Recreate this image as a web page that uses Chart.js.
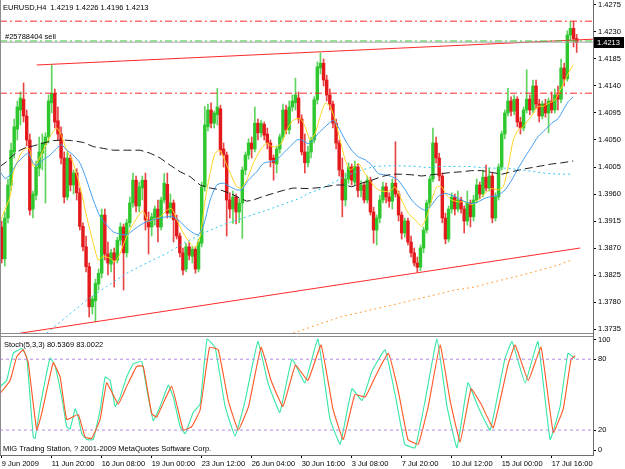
<!DOCTYPE html>
<html>
<head>
<meta charset="utf-8">
<title>EURUSD,H4</title>
<script src="https://cdn.jsdelivr.net/npm/chart.js@4.4.1/dist/chart.umd.min.js"></script>
<style>
  html, body { margin: 0; padding: 0; background: #fff; }
  #wrap { position: relative; width: 625px; height: 469px; }
</style>
</head>
<body>
<div id="wrap"><canvas id="chart" width="625" height="469"></canvas></div>
<script>
// EURUSD H4 candles, bar 0 = 9 Jun 2009 00:00
const opens = [
  1.3905,1.3852,1.3920,1.3975,1.4030,1.4068,1.4100,1.4118,1.4090,1.4050,
  1.3935,1.3958,1.4003,1.4028,1.4042,1.4055,1.4112,1.4128,1.4082,1.4060,
  1.4020,1.3955,1.4020,1.3975,1.3995,1.3962,1.3906,1.3872,1.3839,1.3772,
  1.3782,1.3810,1.3828,1.3925,1.3860,1.3843,1.3862,1.3850,1.3883,1.3905,
  1.3862,1.3912,1.3945,1.3983,1.3940,1.3970,1.3983,1.3917,1.3905,1.3920,
  1.3935,1.3905,1.3950,1.3976,1.3928,1.3945,1.3917,1.3890,1.3862,1.3835,
  1.3872,1.3856,1.3868,1.3835,1.3878,1.3972,1.4072,1.4100,1.4078,1.4092,
  1.4102,1.4035,1.4025,1.3950,1.3935,1.3955,1.3930,1.3945,1.4000,1.4025,
  1.4045,1.4035,1.4078,1.4062,1.4076,1.4060,1.4045,1.4020,1.4010,1.4035,
  1.4055,1.4100,1.4067,1.4105,1.4112,1.4120,1.4085,1.4030,1.4012,1.4030,
  1.4050,1.4117,1.4170,1.4178,1.4150,1.4125,1.4110,1.4078,1.4045,1.4000,
  1.3950,1.3985,1.4005,1.3980,1.4005,1.3966,1.3975,1.3950,1.3983,1.3930,
  1.3900,1.3920,1.3950,1.3972,1.3955,1.3948,1.3978,1.3960,1.3925,1.3895,
  1.3915,1.3880,1.3862,1.3845,1.3838,1.3870,1.3900,1.3945,1.3985,1.4045,
  1.4020,1.3990,1.3920,1.3885,1.3935,1.3955,1.3935,1.3950,1.3935,1.3915,
  1.3945,1.3922,1.3950,1.3975,1.3960,1.3988,1.3970,1.3990,1.3920,1.3955,
  1.4005,1.4060,1.4095,1.4115,1.4098,1.4118,1.4080,1.4070,1.4100,1.4118,
  1.4100,1.4140,1.4110,1.4090,1.4110,1.4095,1.4115,1.4100,1.4125,1.4118,
  1.4170,1.4152,1.4225,1.4236,1.4219
];
const highs = [
  1.3915,1.3930,1.3985,1.4045,1.4085,1.4115,1.4130,1.4145,1.4100,1.4060,
  1.3965,1.4015,1.4055,1.4060,1.4062,1.4125,1.4175,1.4135,1.4105,1.4072,
  1.4030,1.4030,1.4025,1.4000,1.4002,1.3970,1.3912,1.3890,1.3845,1.3790,
  1.3818,1.3835,1.3935,1.3935,1.3880,1.3868,1.3870,1.3888,1.3912,1.3910,
  1.3918,1.3955,1.3995,1.3990,1.3980,1.3990,1.3995,1.3930,1.3928,1.3940,
  1.3950,1.3955,1.3994,1.3995,1.3960,1.3950,1.3925,1.3895,1.3870,1.3878,
  1.3880,1.3872,1.3872,1.3885,1.3980,1.4106,1.4110,1.4112,1.4098,1.4136,
  1.4108,1.4045,1.4030,1.3962,1.3965,1.3960,1.3952,1.4005,1.4030,1.4052,
  1.4055,1.4105,1.4085,1.4083,1.4080,1.4070,1.4050,1.4025,1.4040,1.4060,
  1.4110,1.4108,1.4115,1.4125,1.4153,1.4130,1.4092,1.4060,1.4040,1.4055,
  1.4122,1.4180,1.4195,1.4185,1.4158,1.4135,1.4115,1.4085,1.4050,1.4020,
  1.3995,1.4012,1.4010,1.4015,1.4010,1.3982,1.3980,1.3990,1.3988,1.3938,
  1.3925,1.3958,1.3980,1.3978,1.3962,1.3985,1.4047,1.3965,1.3930,1.3920,
  1.3920,1.3890,1.3870,1.3855,1.3875,1.3905,1.3950,1.3990,1.4070,1.4055,
  1.4028,1.3995,1.3928,1.3940,1.3962,1.3960,1.3965,1.3955,1.3940,1.3965,
  1.3950,1.3958,1.3985,1.3980,1.4000,1.4008,1.4003,1.3995,1.3962,1.4010,
  1.4065,1.4100,1.4136,1.4122,1.4125,1.4122,1.4088,1.4105,1.4167,1.4125,
  1.4150,1.4150,1.4118,1.4115,1.4118,1.4120,1.4130,1.4135,1.4140,1.4185,
  1.4178,1.4232,1.4248,1.4248,1.4226
];
const lows = [
  1.3845,1.3840,1.3912,1.3965,1.4020,1.4050,1.4075,1.4080,1.4040,1.3925,
  1.3920,1.3950,1.3990,1.4000,1.3945,1.4045,1.4095,1.4070,1.4050,1.4010,
  1.3945,1.3950,1.3965,1.3960,1.3950,1.3900,1.3865,1.3830,1.3755,1.3760,
  1.3747,1.3800,1.3820,1.3850,1.3825,1.3830,1.3805,1.3845,1.3875,1.3800,
  1.3855,1.3905,1.3938,1.3930,1.3930,1.3950,1.3900,1.3860,1.3890,1.3908,
  1.3880,1.3900,1.3945,1.3920,1.3920,1.3880,1.3885,1.3855,1.3825,1.3830,
  1.3850,1.3845,1.3828,1.3830,1.3872,1.3965,1.4065,1.4070,1.4070,1.4075,
  1.4025,1.4005,1.3890,1.3920,1.3911,1.3910,1.3912,1.3886,1.3992,1.4018,
  1.4020,1.4030,1.4050,1.4055,1.4050,1.4035,1.4005,1.3983,1.3995,1.4028,
  1.4050,1.4060,1.4060,1.4098,1.4100,1.4078,1.4025,1.3995,1.4005,1.4020,
  1.4045,1.4110,1.4160,1.4140,1.4115,1.4100,1.4070,1.4035,1.3990,1.3922,
  1.3940,1.3978,1.3975,1.3975,1.3955,1.3955,1.3945,1.3945,1.3925,1.3878,
  1.3875,1.3912,1.3945,1.3945,1.3938,1.3935,1.3955,1.3915,1.3885,1.3888,
  1.3875,1.3855,1.3840,1.3830,1.3832,1.3862,1.3895,1.3938,1.3980,1.4012,
  1.3982,1.3912,1.3877,1.3880,1.3928,1.3925,1.3930,1.3928,1.3895,1.3908,
  1.3905,1.3915,1.3945,1.3952,1.3955,1.3965,1.3965,1.3912,1.3915,1.3950,
  1.4000,1.4052,1.4090,1.4090,1.4092,1.4072,1.4060,1.4065,1.4095,1.4092,
  1.4095,1.4102,1.4080,1.4085,1.4088,1.4062,1.4095,1.4095,1.4100,1.4112,
  1.4140,1.4148,1.4215,1.4205,1.4196
];
const closes = [
  1.3852,1.3920,1.3975,1.4033,1.4072,1.4105,1.4120,1.4090,1.4050,1.3933,
  1.3960,1.4005,1.4030,1.4045,1.4055,1.4115,1.4128,1.4080,1.4060,1.4020,
  1.3955,1.4020,1.3975,1.3995,1.3962,1.3906,1.3872,1.3839,1.3772,1.3785,
  1.3811,1.3828,1.3925,1.3860,1.3845,1.3862,1.3850,1.3883,1.3905,1.3862,
  1.3912,1.3945,1.3983,1.3940,1.3972,1.3983,1.3917,1.3905,1.3922,1.3935,
  1.3905,1.3950,1.3978,1.3928,1.3945,1.3917,1.3890,1.3862,1.3833,1.3872,
  1.3858,1.3868,1.3835,1.3880,1.3972,1.4075,1.4100,1.4078,1.4095,1.4105,
  1.4033,1.4025,1.3950,1.3935,1.3955,1.3930,1.3945,1.4000,1.4025,1.4045,
  1.4035,1.4078,1.4062,1.4078,1.4058,1.4045,1.4017,1.4012,1.4035,1.4055,
  1.4100,1.4067,1.4105,1.4115,1.4125,1.4085,1.4030,1.4012,1.4030,1.4050,
  1.4117,1.4172,1.4178,1.4150,1.4125,1.4110,1.4078,1.4045,1.4000,1.3950,
  1.3985,1.4005,1.3983,1.4006,1.3966,1.3975,1.3950,1.3983,1.3930,1.3900,
  1.3920,1.3950,1.3972,1.3955,1.3948,1.3978,1.3960,1.3925,1.3895,1.3915,
  1.3880,1.3862,1.3845,1.3838,1.3870,1.3900,1.3945,1.3985,1.4045,1.4020,
  1.3990,1.3920,1.3885,1.3935,1.3955,1.3935,1.3950,1.3935,1.3915,1.3945,
  1.3922,1.3950,1.3975,1.3960,1.3988,1.3970,1.3990,1.3920,1.3955,1.4005,
  1.4060,1.4095,1.4115,1.4098,1.4118,1.4080,1.4070,1.4100,1.4118,1.4100,
  1.4140,1.4110,1.4090,1.4110,1.4095,1.4115,1.4100,1.4125,1.4118,1.4170,
  1.4152,1.4225,1.4236,1.4219,1.4213
];

// moving averages as [bar, price]
const maYellow = [
  [-0.5,1.3914],[2.7,1.3956],[3.7,1.3995],[5.9,1.4025],[7.5,1.4036],[8.9,1.4035],[10.1,1.4006],
  [11.2,1.4011],[13.3,1.4033],[15.5,1.4056],[17.6,1.4070],[19.2,1.4056],[20.8,1.4033],[22.9,1.4011],
  [25.1,1.3972],[27.2,1.3922],[29.3,1.3878],[30.9,1.3850],[32.5,1.3856],[34.7,1.3853],[36.3,1.3847],
  [37.9,1.3861],[39.5,1.3883],[41.6,1.3906],[44.3,1.3928],[45.3,1.3931],[46.9,1.3914],[48.5,1.3917],
  [50.7,1.3922],[52.8,1.3933],[54.4,1.3936],[56.0,1.3917],[58.1,1.3895],[60.3,1.3878],[61.9,1.3870],
  [63.5,1.3889],[65.1,1.3950],[66.7,1.3995],[68.3,1.4028],[69.9,1.4033],[70.9,1.4022],[73.1,1.3995],
  [75.2,1.3972],[76.8,1.3970],[78.4,1.3983],[80.5,1.4011],[82.7,1.4033],[84.8,1.4045],[86.4,1.4039],
  [88.0,1.4039],[89.6,1.4045],[91.2,1.4067],[93.3,1.4083],[95.5,1.4086],[97.1,1.4072],[98.7,1.4050],
  [100.3,1.4061],[101.9,1.4089],[103.5,1.4111],[105.1,1.4106],[106.7,1.4083],[108.3,1.4050],
  [109.9,1.4017],[111.5,1.4000],[114.1,1.4011],[116.3,1.3994],[118.4,1.3978],[120.5,1.3967],
  [122.7,1.3964],[124.8,1.3967],[125.9,1.3972],[128.0,1.3950],[130.1,1.3928],[132.3,1.3917],
  [134.4,1.3906],[136.0,1.3922],[137.6,1.3950],[139.2,1.3972],[140.8,1.3972],[142.4,1.3958],
  [144.0,1.3950],[146.1,1.3947],[148.3,1.3947],[150.4,1.3942],[152.5,1.3950],[154.7,1.3961],
  [156.8,1.3969],[158.9,1.3967],[160.5,1.3972],[162.1,1.4006],[163.7,1.4050],[165.3,1.4067],
  [166.9,1.4072],[168.5,1.4083],[170.1,1.4094],[171.7,1.4106],[173.3,1.4106],[174.9,1.4111],
  [177.1,1.4117],[178.7,1.4133],[180.3,1.4150],[181.9,1.4167],[182.9,1.4175]
];
const maBlue = [
  [-0.5,1.3997],[1.1,1.3986],[2.7,1.3992],[4.8,1.4011],[6.9,1.4022],[8.5,1.4028],[10.1,1.4011],
  [11.2,1.4008],[13.3,1.4017],[15.5,1.4025],[17.6,1.4036],[19.2,1.4042],[20.8,1.4033],[22.9,1.4025],
  [25.1,1.4011],[27.2,1.3983],[29.3,1.3950],[31.5,1.3922],[33.6,1.3908],[35.7,1.3897],[37.9,1.3893],
  [40.0,1.3892],[42.1,1.3900],[44.3,1.3908],[46.4,1.3914],[48.5,1.3917],[50.7,1.3920],[52.8,1.3922],
  [54.9,1.3922],[57.1,1.3914],[59.2,1.3903],[61.3,1.3895],[62.9,1.3892],[64.5,1.3906],[66.7,1.3950],
  [68.8,1.3975],[70.9,1.3978],[73.1,1.3972],[75.2,1.3967],[76.8,1.3967],[78.9,1.3983],[81.6,1.3997],
  [83.7,1.4011],[85.9,1.4014],[88.0,1.4017],[90.1,1.4028],[92.3,1.4039],[94.4,1.4050],[96.0,1.4050],
  [98.1,1.4044],[99.7,1.4050],[101.3,1.4061],[103.5,1.4072],[106.1,1.4083],[107.7,1.4072],
  [109.9,1.4050],[112.0,1.4033],[114.1,1.4022],[116.3,1.4017],[118.4,1.4008],[120.5,1.3994],
  [122.7,1.3992],[124.8,1.3989],[126.9,1.3983],[129.1,1.3967],[131.2,1.3950],[133.3,1.3939],
  [135.5,1.3933],[137.6,1.3942],[139.7,1.3956],[141.9,1.3961],[144.0,1.3958],[146.1,1.3953],
  [148.3,1.3947],[150.4,1.3944],[152.5,1.3947],[154.7,1.3953],[156.8,1.3956],[158.9,1.3958],
  [161.1,1.3967],[163.2,1.3983],[165.3,1.4003],[167.5,1.4022],[169.6,1.4039],[171.7,1.4056],
  [173.9,1.4067],[176.0,1.4078],[178.1,1.4086],[179.7,1.4100],[181.3,1.4114],[182.9,1.4122]
];
const maBlack = [
  [-0.5,1.4006],[1.6,1.4014],[3.7,1.4025],[5.9,1.4033],[8.0,1.4038],[10.1,1.4040],[13.3,1.4045],
  [16.5,1.4049],[19.7,1.4050],[22.4,1.4049],[26.1,1.4046],[29.3,1.4039],[32.5,1.4036],[35.7,1.4033],
  [40.0,1.4033],[44.3,1.4033],[47.5,1.4028],[50.7,1.4020],[53.9,1.4008],[57.1,1.3997],[60.3,1.3989],
  [63.5,1.3975],[66.7,1.3970],[69.9,1.3967],[73.1,1.3961],[76.3,1.3953],[78.4,1.3948],[80.5,1.3950],
  [83.7,1.3956],[86.9,1.3961],[90.1,1.3966],[93.3,1.3970],[98.1,1.3969],[102.4,1.3971],
  [106.7,1.3975],[109.9,1.3975],[112.0,1.3972],[115.2,1.3978],[118.4,1.3983],[121.6,1.3989],
  [124.8,1.3993],[128.0,1.3993],[131.2,1.3992],[134.4,1.3990],[137.6,1.3992],[140.8,1.3994],
  [144.0,1.3996],[147.2,1.3997],[150.4,1.3999],[153.6,1.3999],[156.8,1.3996],[160.0,1.3993],
  [163.2,1.3997],[166.4,1.4001],[169.6,1.4004],[172.8,1.4007],[176.0,1.4010],[179.2,1.4012],
  [182.9,1.4015]
];
const maCyan = [
  [14.4,1.3728],[20.8,1.3756],[27.2,1.3783],[33.6,1.3806],[40.0,1.3828],[46.4,1.3845],[52.8,1.3861],
  [59.2,1.3881],[65.6,1.3897],[72.0,1.3911],[78.4,1.3922],[84.8,1.3933],[91.2,1.3945],[95.5,1.3953],
  [98.1,1.3961],[102.4,1.3969],[106.7,1.3981],[111.0,1.3992],[115.2,1.4000],[119.5,1.4006],
  [123.7,1.4007],[128.0,1.4007],[132.3,1.4006],[136.5,1.4004],[140.8,1.4006],[145.1,1.4006],
  [149.3,1.4006],[153.6,1.4004],[157.9,1.4003],[162.1,1.4003],[166.4,1.4000],[170.7,1.3997],
  [174.9,1.3994],[179.2,1.3993],[182.4,1.3993]
];
const maOrange = [
  [93.2,1.3728],[108.3,1.3755],[127.4,1.3778],[145.0,1.3800],[151.4,1.3805],[157.9,1.3814],
  [164.3,1.3822],[170.7,1.3831],[177.0,1.3840],[182.5,1.3850]
];

// Stochastic(5,3,3) main and signal as [bar, value]
const stochMain = [
  [-0.5,57],[1.6,62],[3.7,85],[6.4,89],[8,82],[10.1,14],[10.7,13],[12.3,40],[15.5,81],[17.1,74],
  [19.2,48],[20.8,23],[21.9,21],[23.5,38],[24.5,31],[25.6,17],[27.2,12],[29.3,12],[31.5,37],[33.1,65],
  [34.7,62],[36.3,40],[37.9,48],[40,65],[42.1,76],[44.8,78],[46.4,55],[48.5,28],[50.7,40],[53.3,58],
  [54.9,48],[57.1,23],[58.7,17],[61.3,35],[63.5,42],[65.7,97],[68.3,90],[71.5,40],[74.7,15],[77.9,45],
  [82,95],[85.2,60],[89,35],[92.9,80],[97,60],[101.2,97],[105,30],[108.3,8],[112.1,55],[115.3,45],
  [118.5,70],[122.7,88],[125.9,50],[129,8],[132.3,5],[135.5,45],[139.3,97],[142.5,40],[145.7,5],
  [149.2,60],[152.4,40],[156.3,20],[161,80],[163.3,95],[167.5,60],[171.6,95],[175.5,12],[178.7,40],
  [181.2,85],[183.5,80.5]
];
const stochSignal = [
  [-0.5,51],[2.7,62],[4.8,82],[6.9,88],[8.5,77],[11.2,20],[12.8,34],[16.5,77],[18.7,65],[20.8,29],
  [24.5,33],[26.7,14],[28.8,13],[31.5,29],[33.6,60],[37.3,42],[40,57],[43.2,74],[45.3,74],[48,34],
  [49.6,31],[54.4,57],[58.1,20],[60.8,23],[63.5,37],[66.5,90],[69.3,88],[72.5,45],[75.7,20],[79,40],
  [83,90],[86.2,62],[90,40],[94,75],[98,62],[102.2,92],[106,38],[109.3,12],[113,50],[116.3,48],
  [119.5,65],[123.7,85],[127,52],[130,12],[133.3,8],[136.5,40],[140.3,92],[143.5,45],[146.7,10],
  [150.2,55],[153.4,42],[157.3,22],[162,75],[164.3,92],[168.5,62],[172.6,90],[176.5,18],[179.7,38],
  [182.2,80],[183.5,83]
];

// trend lines and price levels
const upperTrend = [[11.2,1.4175],[189.2,1.4218]];
const lowerTrend = [[5.9,1.3728],[185.1,1.3870]];
const levelHigh = 1.4248;   // red dash-dot
const levelLow = 1.4128;    // red dash-dot
const orderPrice = 1.4215;  // green dash-dot, #25788404 sell
const bidPrice = 1.4213;

const xTickIdx = [0,16,32,48,64,80,96,112,128,144,160,176];
const xTickText = ['9 Jun 2009','11 Jun 20:00','16 Jun 08:00','19 Jun 00:00','23 Jun 12:00','26 Jun 04:00',
  '30 Jun 16:00','3 Jul 08:00','7 Jul 20:00','10 Jul 12:00','15 Jul 00:00','17 Jul 16:00'];
const priceTicks = [1.4275,1.4230,1.4185,1.4140,1.4095,1.4050,1.4005,1.3960,1.3915,1.3870,1.3825,1.3780,1.3735];
const stochTickVals = [96.6,80,20,3];
const stochTickText = ['100','80','20','0'];
const stochLevels = [80,20];

const X_MIN = -0.544, X_MAX = 189.22;
const P_MIN = 1.37267, P_MAX = 1.42833;

const FONT = '"Liberation Sans", Arial, sans-serif';
const UP = '#2ec72e', DOWN = '#e3191b';
const UP_WICK = '#5ed45e', DOWN_WICK = '#e84444';

const pts = arr => arr.map(p => ({x: p[0], y: p[1]}));
const span = v => [{x: X_MIN, y: v}, {x: X_MAX, y: v}];
const isUp = i => closes[i] >= opens[i];

function lineSet(data, color, dash, width, axis, tension) {
  return {
    type: 'line', data: data, yAxisID: axis || 'y',
    borderColor: color, borderWidth: width || 1, borderDash: dash || [],
    pointRadius: 0, tension: tension || 0, fill: false, order: 0
  };
}

const bodies = {
  type: 'bar', yAxisID: 'y', order: 2, grouped: false,
  data: opens.map((o, i) => ({x: i, y: [o, closes[i]]})),
  backgroundColor: ctx => isUp(ctx.dataIndex) ? UP : DOWN,
  barThickness: 2.8, minBarLength: 1, borderWidth: 0
};
const wicks = {
  type: 'bar', yAxisID: 'y', order: 3, grouped: false,
  data: lows.map((l, i) => ({x: i, y: [l, highs[i]]})),
  backgroundColor: ctx => isUp(ctx.dataIndex) ? UP_WICK : DOWN_WICK,
  barThickness: 1, borderWidth: 0
};

const dashDot = [7, 3, 2, 3];
const datasets = [
  wicks, bodies,
  lineSet(span(levelHigh), '#ff2a2a', dashDot),
  lineSet(span(levelLow), '#ff2a2a', dashDot),
  lineSet(span(bidPrice), '#a6a6a6', []),
  lineSet(span(orderPrice), '#33cc33', dashDot),
  lineSet(pts(upperTrend), '#ff2a2a', []),
  lineSet(pts(lowerTrend), '#ff2a2a', []),
  lineSet(pts(maOrange), '#ffa040', [2, 3]),
  lineSet(pts(maCyan), '#33c4f0', [2, 3]),
  lineSet(pts(maBlack), '#1e1e1e', [8, 4]),
  lineSet(pts(maBlue), '#3e9cf0', [], 1, 'y', 0.2),
  lineSet(pts(maYellow), '#ffd21e', [], 1, 'y', 0.2),
  lineSet(span(stochLevels[0]), '#b48ae6', [3, 3], 1, 'y2'),
  lineSet(span(stochLevels[1]), '#b48ae6', [3, 3], 1, 'y2'),
  lineSet(pts(stochSignal), '#ff5522', [], 1.1, 'y2', 0.1),
  lineSet(pts(stochMain), '#35e6a6', [], 1.1, 'y2', 0.1)
];

const texts = {
  id: 'texts',
  afterDraw(chart) {
    const c = chart.ctx;
    const a = chart.chartArea;
    const yMain = chart.scales.y;
    c.save();
    // panel frames
    c.strokeStyle = '#8c8c8c';
    c.lineWidth = 1;
    c.beginPath();
    c.moveTo(0.5, 0); c.lineTo(0.5, a.bottom);
    c.moveTo(0, 333.5); c.lineTo(a.right, 333.5);
    c.moveTo(0, 336.5); c.lineTo(a.right, 336.5);
    c.stroke();
    c.fillStyle = '#000';
    c.font = '7.5px ' + FONT;
    c.textBaseline = 'alphabetic';
    c.fillText('EURUSD,H4  1.4219 1.4226 1.4196 1.4213', 3, 10);
    c.fillText('#25788404 sell', 5, 39);
    c.fillText('Stoch(5,3,3) 80.5369 83.0022', 4, 347);
    c.fillText('MIG Trading Station, ? 2001-2009 MetaQuotes Software Corp.', 3, 451);
    // bid price marker on the axis
    const by = Math.round(yMain.getPixelForValue(bidPrice));
    c.fillStyle = '#000';
    c.fillRect(a.right + 1, by - 5, 30, 11);
    c.fillStyle = '#fff';
    c.textBaseline = 'middle';
    c.fillText(bidPrice.toFixed(4), a.right + 4, by + 0.5);
    c.restore();
  }
};

function fixWidth(w) {
  return s => { s.width = w; s.paddingTop = 0; s.paddingBottom = 0; };
}

new Chart(document.getElementById('chart'), {
  type: 'line',
  data: {datasets: datasets},
  options: {
    responsive: false, animation: false, devicePixelRatio: 1, events: [],
    layout: {padding: 0, autoPadding: false},
    plugins: {legend: {display: false}, tooltip: {enabled: false}},
    scales: {
      x: {
        type: 'linear', min: X_MIN, max: X_MAX, offset: false, bounds: 'data',
        afterBuildTicks: s => { s.ticks = xTickIdx.map(v => ({value: v})); },
        afterFit: s => { s.height = 14; s.paddingLeft = 0; s.paddingRight = 0; },
        ticks: {
          autoSkip: false, maxRotation: 0, align: 'start', padding: 1, color: '#000',
          font: {family: FONT, size: 7.5},
          callback: v => xTickText[xTickIdx.indexOf(v)]
        },
        grid: {drawOnChartArea: false, offset: false, tickLength: 3, color: '#000'},
        border: {display: true, color: '#6e6e6e'}
      },
      y: {
        type: 'linear', position: 'right', stack: 'panes', stackWeight: 334,
        min: P_MIN, max: P_MAX, bounds: 'data',
        afterBuildTicks: s => { s.ticks = priceTicks.map(v => ({value: v})); },
        afterFit: fixWidth(32),
        ticks: {padding: 2, color: '#000', font: {family: FONT, size: 7.5},
          callback: v => v.toFixed(4)},
        grid: {drawOnChartArea: false, tickLength: 3, color: '#000'},
        border: {display: true, color: '#6e6e6e'}
      },
      y2: {
        type: 'linear', position: 'right', stack: 'panes', stackWeight: 121,
        min: -1.1, max: 101.35, bounds: 'data',
        afterBuildTicks: s => { s.ticks = stochTickVals.map(v => ({value: v})); },
        afterFit: fixWidth(32),
        ticks: {padding: 2, color: '#000', font: {family: FONT, size: 7.5},
          callback: v => stochTickText[stochTickVals.indexOf(v)]},
        grid: {drawOnChartArea: false, tickLength: 3, color: '#000'},
        border: {display: true, color: '#6e6e6e'}
      }
    }
  },
  plugins: [texts]
});
</script>
</body>
</html>
